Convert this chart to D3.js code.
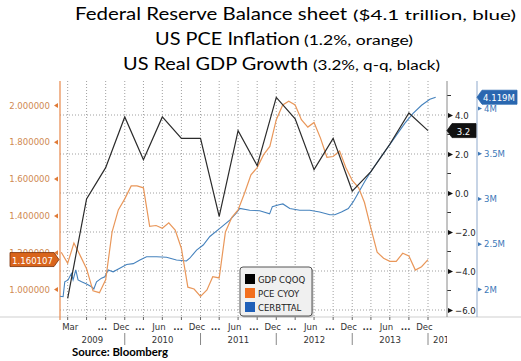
<!DOCTYPE html>
<html>
<head>
<meta charset="utf-8">
<script src="https://cdn.jsdelivr.net/npm/d3@7"></script>
<style>
  body { margin: 0; background: #fff; }
  svg { display: block; }
  .ax { font-family: "DejaVu Sans Condensed", "DejaVu Sans", sans-serif; font-size: 9.5px; }
</style>
</head>
<body>
<svg id="chart" width="521" height="361"></svg>
<script>
// US real GDP, q/q annualised (%), plotted at quarter end
var gdpQuarters = ["2009Q1","2009Q2","2009Q3","2009Q4","2010Q1","2010Q2","2010Q3","2010Q4",
                   "2011Q1","2011Q2","2011Q3","2011Q4","2012Q1","2012Q2","2012Q3","2012Q4",
                   "2013Q1","2013Q2","2013Q3","2013Q4"];
var gdpValues = [-5.4,-0.3,1.3,3.9,1.7,3.9,2.8,2.8,-1.2,3.2,1.4,4.9,3.8,1.2,2.8,0.1,1.1,2.5,4.1,3.2];

// US PCE y/y (%), monthly, plotted at month end
var pceMonths = ["2009-02","2009-03","2009-04","2009-05","2009-06","2009-07","2009-08","2009-09","2009-10","2009-11","2009-12",
                 "2010-01","2010-02","2010-03","2010-04","2010-05","2010-06","2010-07","2010-08","2010-09","2010-10","2010-11","2010-12",
                 "2011-01","2011-02","2011-03","2011-04","2011-05","2011-06","2011-07","2011-08","2011-09","2011-10","2011-11","2011-12",
                 "2012-01","2012-02","2012-03","2012-04","2012-05","2012-06","2012-07","2012-08","2012-09","2012-10","2012-11","2012-12",
                 "2013-01","2013-02","2013-03","2013-04","2013-05","2013-06","2013-07","2013-08","2013-09","2013-10","2013-11","2013-12"];
var pceValues = [1.20,1.14,1.25,1.18,1.11,0.99,0.98,1.05,1.31,1.43,1.49,
                 1.56,1.56,1.55,1.34,1.345,1.33,1.36,1.32,1.22,1.01,1.00,0.96,
                 0.995,1.067,1.06,1.31,1.39,1.43,1.52,1.62,1.66,1.73,1.775,1.92,
                 2.00,2.02,2.00,1.92,1.88,1.905,1.82,1.716,1.72,1.75,1.66,1.59,
                 1.55,1.47,1.33,1.20,1.167,1.15,1.15,1.194,1.18,1.103,1.121,1.16];

// Fed balance sheet total (CERBTTAL), in $ trillion ("M" on the axis = million millions)
var fedDates = ["2009-02-23","2009-03-10","2009-03-18","2009-04-03","2009-04-19","2009-04-27","2009-05-10","2009-05-21",
                "2009-06-07","2009-07-01","2009-07-25","2009-08-05","2009-08-18","2009-09-11","2009-09-27","2009-10-13",
                "2009-11-06","2009-12-08","2010-01-10","2010-02-11","2010-03-15","2010-04-16","2010-06-03","2010-07-21",
                "2010-09-07","2010-10-25","2010-11-10","2010-12-13","2011-01-14","2011-02-15","2011-04-04","2011-05-22",
                "2011-06-23","2011-07-09","2011-08-26","2011-10-13","2011-11-30","2011-12-13","2012-01-14","2012-02-02",
                "2012-03-06","2012-04-23","2012-06-10","2012-07-28","2012-09-15","2012-10-09","2012-11-10","2012-12-13",
                "2013-01-06","2013-01-30","2013-03-03","2013-04-04","2013-05-14","2013-06-23","2013-08-02","2013-09-11",
                "2013-10-21","2013-12-01","2014-01-10","2014-02-07"];
var fedValues = [1.92,1.915,2.08,2.10,2.17,2.10,2.21,2.10,
                 2.08,2.055,2.025,2.00,2.08,2.12,2.135,2.21,
                 2.19,2.23,2.27,2.28,2.32,2.357,2.357,2.35,
                 2.32,2.31,2.34,2.43,2.486,2.58,2.67,2.76,
                 2.84,2.89,2.87,2.865,2.83,2.91,2.93,2.94,
                 2.89,2.87,2.87,2.85,2.82,2.82,2.85,2.89,
                 2.965,3.06,3.19,3.31,3.44,3.57,3.70,3.83,
                 3.94,4.03,4.096,4.119];

var pceTicks = [1.0,1.2,1.4,1.6,1.8,2.0];
var gdpTicks = [-6,-4,-2,0,2,4];
var gdpMinor = [-5,-3,-1,1,3,5];
var fedTicks = [2,2.5,3,3.5,4];

var monthLabelDates = ["2009-03","2009-09","2009-12","2010-03","2010-06","2010-09","2010-12","2011-03","2011-06","2011-09",
                       "2011-12","2012-03","2012-06","2012-09","2012-12","2013-03","2013-06","2013-09","2013-12"];
var monthLabelTexts = ["Mar","...","Dec","...","Jun","...","Dec","...","Jun","...",
                       "Dec","...","Jun","...","Dec","...","Jun","...","Dec"];
var yearLabels = ["2009","2010","2011","2012","2013","2014"];

var legendNames = ["GDP CQOQ","PCE CYOY","CERBTTAL"];
var legendColors = ["#000000","#f26f1e","#1f5fb8"];

var titleMain = ["Federal Reserve Balance sheet","US PCE Inflation","US Real GDP Growth"];
var titleParen = ["($4.1 trillion,  blue)","(1.2%, orange)","(3.2%, q-q, black)"];

var svg = d3.select("#chart");
var L = 60, R = 447, T = 81, B = 317, R2 = 477;

var parseDay = d3.timeParse("%Y-%m-%d");
var parseMonth = d3.timeParse("%Y-%m");

var x = d3.scaleTime().domain([new Date(2009,0,1), new Date(2014,0,1)]).range([49, 428]);
var yPce = d3.scaleLinear().domain([1.0, 2.0]).range([289, 105]);
var yGdp = d3.scaleLinear().domain([-6, 4]).range([310, 115]);
var yFed = d3.scaleLinear().domain([2, 4]).range([289, 108]);

// titles
titleMain.forEach(function(t, i){
  var base = [19.5, 45, 70][i];
  var mx = [75, 155, 123][i], mw = [272, 145, 185][i];
  var px = [353, 304, 313][i], pw = [163, 109, 127][i];
  svg.append("text").attr("x", mx).attr("y", base).text(t)
    .attr("font-family", "Lato, 'Open Sans', sans-serif").attr("font-size", 17.5)
    .attr("textLength", mw).attr("lengthAdjust", "spacingAndGlyphs");
  svg.append("text").attr("x", px).attr("y", base).text(titleParen[i])
    .attr("font-family", "Lato, 'Open Sans', sans-serif").attr("font-size", 13.5)
    .attr("textLength", pw).attr("lengthAdjust", "spacingAndGlyphs");
});

svg.append("defs").append("clipPath").attr("id", "plot")
  .append("rect").attr("x", L).attr("y", T).attr("width", R - L).attr("height", B - T);
svg.select("defs").append("clipPath").attr("id", "xlab")
  .append("rect").attr("x", 0).attr("y", 300).attr("width", R).attr("height", 61);

// baseline
svg.append("line").attr("x1", 0).attr("x2", 521).attr("y1", B).attr("y2", B)
  .attr("stroke", "#cfcfcf");

// grid
var qTicks = d3.timeMonth.every(3).range(new Date(2009,3,1), new Date(2014,1,1));
svg.append("g").selectAll("line").data(qTicks).join("line")
  .attr("x1", d => x(d)).attr("x2", d => x(d)).attr("y1", T).attr("y2", B)
  .attr("stroke", "#a0a0a0").attr("stroke-dasharray", "1,2");
svg.append("g").selectAll("line").data(gdpTicks).join("line")
  .attr("x1", L).attr("x2", R).attr("y1", d => yGdp(d)).attr("y2", d => yGdp(d))
  .attr("stroke", "#a0a0a0").attr("stroke-dasharray", "1,2");

// x axis
svg.append("g").selectAll("line").data(qTicks).join("line")
  .attr("x1", d => x(d)).attr("x2", d => x(d)).attr("y1", B).attr("y2", B + 3)
  .attr("stroke", "#666");
var xl = svg.append("g").attr("class", "ax").attr("clip-path", "url(#xlab)").attr("fill", "#333");
xl.selectAll(".m").data(monthLabelDates).join("text").attr("class", "m")
  .attr("x", function(d, i){
    var dt = parseMonth(d);
    return i === 0 ? x(dt) + 1 : x(d3.timeDay.offset(dt, 14));
  })
  .attr("y", 330).attr("text-anchor", (d, i) => i === 0 ? "start" : "middle")
  .attr("font-weight", (d, i) => monthLabelTexts[i] === "..." ? "bold" : null)
  .text((d, i) => monthLabelTexts[i]);
var yrText = xl.selectAll(".y").data(yearLabels).join("text").attr("class", "y")
  .attr("y", 343).attr("text-anchor", "middle").text(d => d);
yrText.attr("x", function(d){
  var a = x(new Date(+d, 0, 1)), b = x(new Date(+d + 1, 0, 1));
  var c = (Math.max(a, L) + Math.min(b, R)) / 2;
  var w = this.getComputedTextLength();
  return Math.max(c, a + 5 + w / 2);
});
svg.append("g").selectAll("line").data(yearLabels.slice(1)).join("line")
  .attr("x1", d => x(new Date(+d, 0, 1))).attr("x2", d => x(new Date(+d, 0, 1)))
  .attr("y1", 333).attr("y2", 345).attr("stroke", "#888");

// left axis (PCE, orange)
var gL = svg.append("g").attr("class", "ax").attr("transform", `translate(${L},0)`)
  .call(d3.axisLeft(yPce).tickValues(pceTicks).tickFormat(d3.format(".6f")).tickSize(0).tickPadding(10));
gL.select(".domain").remove();
gL.selectAll("text").attr("fill", "#cf8a52");
gL.selectAll(".tick").append("path").attr("d", "M-6,0L-2,-2.5L-2,2.5Z").attr("fill", "#e07a36");
svg.append("line").attr("x1", L).attr("x2", L).attr("y1", T).attr("y2", B + 3)
  .attr("stroke", "#e8884a").attr("stroke-width", 1.2);

// right axis (GDP, black)
var gR = svg.append("g").attr("class", "ax").attr("transform", `translate(${R},0)`)
  .call(d3.axisRight(yGdp).tickValues(gdpTicks).tickFormat(d3.format(".1f")).tickSize(0).tickPadding(8));
gR.select(".domain").remove();
gR.selectAll("text").attr("fill", "#222");
gR.selectAll(".tick").append("path").attr("d", "M1,-2.5L6,0L1,2.5Z").attr("fill", "#111");
svg.append("g").selectAll("line").data(gdpMinor).join("line")
  .attr("x1", R).attr("x2", R + 4).attr("y1", d => yGdp(d)).attr("y2", d => yGdp(d)).attr("stroke", "#333");
svg.append("line").attr("x1", R).attr("x2", R).attr("y1", T).attr("y2", B)
  .attr("stroke", "#8a8a8a");

// right axis 2 (balance sheet, blue)
var gR2 = svg.append("g").attr("class", "ax").attr("transform", `translate(${R2},0)`)
  .call(d3.axisRight(yFed).tickValues(fedTicks).tickFormat(d => d + "M").tickSize(0).tickPadding(7));
gR2.select(".domain").remove();
gR2.selectAll("text").attr("fill", "#3d78b8");
gR2.selectAll(".tick").append("path").attr("d", "M1,-2L5,0L1,2Z").attr("fill", "#3d78b8");
svg.append("line").attr("x1", R2).attr("x2", R2).attr("y1", T).attr("y2", B)
  .attr("stroke", "#8fa9cc");

// series
var plot = svg.append("g").attr("clip-path", "url(#plot)");
var fedData = fedDates.map((d, i) => ({ t: parseDay(d), v: fedValues[i] }));
var pceData = pceMonths.map((m, i) => ({ t: d3.timeMonth.offset(parseMonth(m), 1), v: pceValues[i] }));
var gdpData = gdpQuarters.map((q, i) => ({ t: new Date(+q.slice(0, 4), 3 * +q.slice(5), 1), v: gdpValues[i] }));

plot.append("path").datum(fedData)
  .attr("d", d3.line().x(d => x(d.t)).y(d => yFed(d.v)))
  .attr("fill", "none").attr("stroke", "#4582bd").attr("stroke-width", 1.1);
plot.append("path").datum(pceData)
  .attr("d", d3.line().x(d => x(d.t)).y(d => yPce(d.v)))
  .attr("fill", "none").attr("stroke", "#e9975a").attr("stroke-width", 1.2);
plot.append("path").datum(gdpData)
  .attr("d", d3.line().x(d => x(d.t)).y(d => yGdp(d.v)))
  .attr("fill", "none").attr("stroke", "#2b2b2b").attr("stroke-width", 1.2);

// last value tags
function tag(tipX, cy, w, pointRight, fill, stroke, txt) {
  var g = svg.append("g");
  var d = pointRight
    ? `M${tipX},${cy}L${tipX - 5},${cy - 7}L${tipX - w},${cy - 7}L${tipX - w},${cy + 7}L${tipX - 5},${cy + 7}Z`
    : `M${tipX},${cy}L${tipX + 5},${cy - 7}L${tipX + w},${cy - 7}L${tipX + w},${cy + 7}L${tipX + 5},${cy + 7}Z`;
  g.append("path").attr("d", d).attr("fill", fill).attr("stroke", stroke).attr("stroke-width", 0.8);
  g.append("text").attr("class", "ax").attr("font-size", 10.5)
    .attr("x", pointRight ? tipX - w / 2 - 2 : tipX + w / 2 + 2).attr("y", cy + 4)
    .attr("text-anchor", "middle").attr("fill", "#fff").text(txt);
}
tag(L - 1, yPce(pceValues[pceValues.length - 1]), 49, true, "#d9641c", "#7a2e05", "1.160107");
tag(R, yGdp(gdpValues[gdpValues.length - 1]), 29, false, "#111", "#111", d3.format(".1f")(gdpValues[gdpValues.length - 1]));
tag(R2, yFed(fedValues[fedValues.length - 1]), 40, false, "#2a67b0", "#2a67b0", d3.format(".3f")(fedValues[fedValues.length - 1]) + "M");

// legend
var lg = svg.append("g").attr("transform", "translate(240,267)");
lg.append("rect").attr("x", 1.5).attr("y", 1.5).attr("width", 72).attr("height", 49).attr("rx", 3)
  .attr("fill", "#999").attr("opacity", 0.5);
lg.append("rect").attr("width", 72).attr("height", 49).attr("rx", 3)
  .attr("fill", "#f0f0f0").attr("stroke", "#555");
legendNames.forEach(function(n, i){
  lg.append("rect").attr("x", 5).attr("y", 7 + i * 14).attr("width", 10).attr("height", 10)
    .attr("fill", legendColors[i]);
  lg.append("text").attr("class", "ax").attr("font-size", 10.5).attr("x", 18).attr("y", 16 + i * 14)
    .attr("fill", "#222").text(n);
});

// source
svg.append("text").attr("x", 72).attr("y", 356).text("Source:  Bloomberg")
  .attr("font-family", "Lato, 'Open Sans', sans-serif").attr("font-weight", "bold").attr("font-size", 11)
  .attr("textLength", 96).attr("lengthAdjust", "spacingAndGlyphs");
</script>
</body>
</html>
